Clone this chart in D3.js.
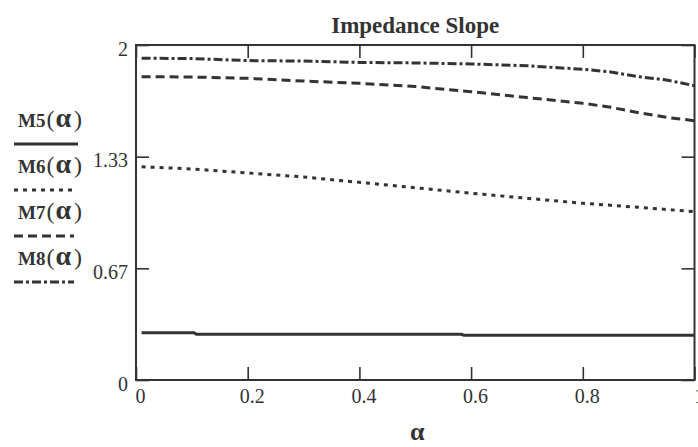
<!DOCTYPE html>
<html>
<head>
<meta charset="utf-8">
<script src="https://cdn.jsdelivr.net/npm/d3@7"></script>
<style>
  html, body { margin: 0; padding: 0; background: #fff; }
  svg { display: block; }
  text { font-family: "Liberation Serif", "Times New Roman", serif; fill: #333; }
</style>
</head>
<body>
<svg id="chart" width="698" height="447"></svg>
<script>
// Sample points along alpha for the smooth curves
const alpha = [0.01, 0.1, 0.2, 0.3, 0.4, 0.5, 0.6, 0.7, 0.8, 0.85, 0.9, 0.95, 1.0];
const m6 = [1.273, 1.260, 1.236, 1.212, 1.180, 1.148, 1.115, 1.085, 1.055, 1.043, 1.031, 1.018, 1.005];
const m7 = [1.811, 1.809, 1.801, 1.785, 1.771, 1.752, 1.721, 1.686, 1.652, 1.628, 1.596, 1.568, 1.548];
const m8 = [1.921, 1.919, 1.907, 1.904, 1.896, 1.893, 1.887, 1.876, 1.855, 1.839, 1.811, 1.791, 1.757];

// M5 is piecewise constant, so it gets its own breakpoints
const m5Alpha = [0.01, 0.104, 0.108, 0.583, 0.587, 1.0];
const m5 = [0.282, 0.282, 0.273, 0.273, 0.267, 0.267];

const xTicks = [0, 0.2, 0.4, 0.6, 0.8, 1];
const xTickLabels = ["0", "0.2", "0.4", "0.6", "0.8", "1"];
const yTicks = [0, 2 / 3, 4 / 3, 2];
const yTickLabels = ["0", "0.67", "1.33", "2"];

const seriesNames = ["M5", "M6", "M7", "M8"];

const ink = "#333";
const svg = d3.select("#chart");
const plot = { left: 136, right: 694.5, top: 45, bottom: 380 };

const x = d3.scaleLinear().domain([0, 1]).range([plot.left, plot.right]);
const y = d3.scaleLinear().domain([0, 2]).range([plot.bottom, plot.top]);

const dashes = [null, "4,5", "9,5", "9,3,3,3"];
const series = [
  { xs: m5Alpha, ys: m5 },
  { xs: alpha, ys: m6 },
  { xs: alpha, ys: m7 },
  { xs: alpha, ys: m8 }
].map((s, i) => ({ ...s, name: seriesNames[i], dash: dashes[i] }));

// Title
svg.append("text")
  .attr("x", (plot.left + plot.right) / 2)
  .attr("y", 33)
  .attr("text-anchor", "middle")
  .attr("font-weight", "bold")
  .attr("font-size", 23)
  .text("Impedance Slope");

// Axes with inward ticks on all four sides
const tickLen = 13;
const bottomAxis = d3.axisBottom(x).tickValues(xTicks)
  .tickSizeInner(-tickLen).tickSizeOuter(0)
  .tickFormat((d, i) => xTickLabels[i]);
const topAxis = d3.axisTop(x).tickValues(xTicks)
  .tickSizeInner(-tickLen).tickSizeOuter(0).tickFormat("");
const leftAxis = d3.axisLeft(y).tickValues(yTicks)
  .tickSizeInner(-tickLen).tickSizeOuter(0)
  .tickFormat((d, i) => yTickLabels[i]);
const rightAxis = d3.axisRight(y).tickValues(yTicks)
  .tickSizeInner(-tickLen).tickSizeOuter(0).tickFormat("");

const gb = svg.append("g").attr("transform", `translate(0,${plot.bottom})`).call(bottomAxis);
const gt = svg.append("g").attr("transform", `translate(0,${plot.top})`).call(topAxis);
const gl = svg.append("g").attr("transform", `translate(${plot.left},0)`).call(leftAxis);
const gr = svg.append("g").attr("transform", `translate(${plot.right},0)`).call(rightAxis);

[gb, gt, gl, gr].forEach(g => {
  g.select(".domain").remove();
  g.selectAll(".tick line").attr("stroke", ink).attr("stroke-width", 1.6);
});

gb.selectAll(".tick text")
  .attr("font-family", "Liberation Serif, serif")
  .attr("font-size", 20)
  .attr("fill", ink)
  .attr("x", 4).attr("y", 23).attr("dy", 0);

gl.selectAll(".tick text")
  .attr("font-family", "Liberation Serif, serif")
  .attr("font-size", 20)
  .attr("fill", ink)
  .attr("x", -8).attr("y", 10).attr("dy", 0);

// Frame
svg.append("rect")
  .attr("x", plot.left).attr("y", plot.top)
  .attr("width", plot.right - plot.left)
  .attr("height", plot.bottom - plot.top)
  .attr("fill", "none")
  .attr("stroke", ink)
  .attr("stroke-width", 2);

// Curves
const line = d3.line().x(d => x(d[0])).y(d => y(d[1]));
series.forEach(s => {
  const pts = s.xs.map((v, i) => [v, s.ys[i]]);
  svg.append("path")
    .datum(pts)
    .attr("d", line)
    .attr("fill", "none")
    .attr("stroke", ink)
    .attr("stroke-width", 3)
    .attr("stroke-dasharray", s.dash);
});

// Axis label
svg.append("text")
  .attr("x", (plot.left + plot.right) / 2 + 2)
  .attr("y", 440)
  .attr("text-anchor", "middle")
  .attr("font-weight", "bold")
  .attr("font-size", 26)
  .text("α");

// Legend on the left: label with the line sample beneath it
const legend = svg.append("g");
series.forEach((s, i) => {
  const baseY = 127 + i * 46;
  const t = legend.append("text").attr("x", 18).attr("y", baseY);
  t.append("tspan").attr("font-weight", "bold").attr("font-size", 19).text(s.name);
  t.append("tspan").attr("font-size", 24).attr("dx", 1).text("(");
  t.append("tspan").attr("font-weight", "bold").attr("font-size", 28).attr("dx", 1).text("α");
  t.append("tspan").attr("font-size", 24).attr("dx", 3).text(")");
  legend.append("line")
    .attr("x1", 14).attr("x2", s.dash ? 74 : 78)
    .attr("y1", baseY + 17).attr("y2", baseY + 17)
    .attr("stroke", ink)
    .attr("stroke-width", 3)
    .attr("stroke-dasharray", s.dash);
});
</script>
</body>
</html>
